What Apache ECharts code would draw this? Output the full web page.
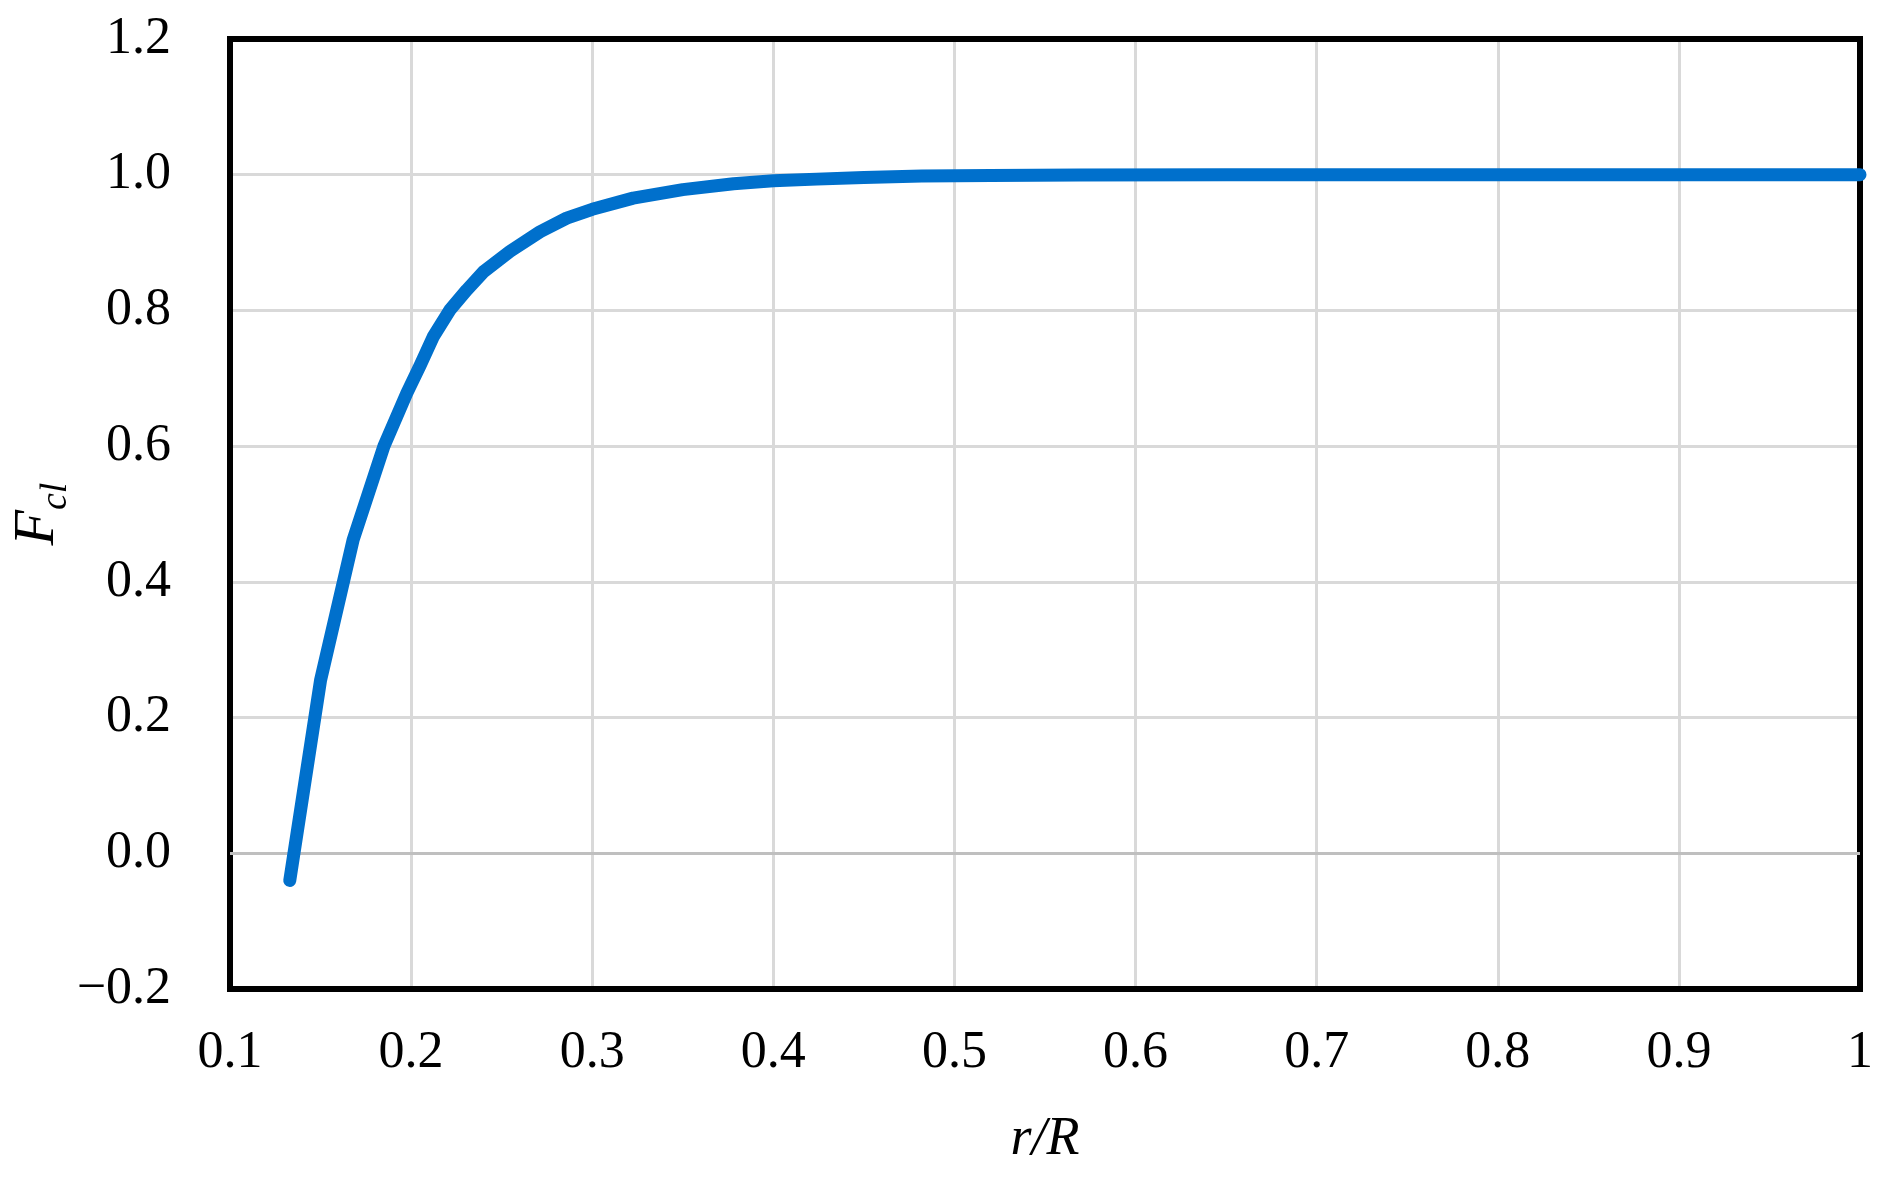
<!DOCTYPE html>
<html>
<head>
<meta charset="utf-8">
<script src="https://cdn.jsdelivr.net/npm/echarts@6/dist/echarts.min.js"></script>
<style>
html,body{margin:0;padding:0;background:#fff;}
#chart{width:1892px;height:1187px;}
</style>
</head>
<body>
<div id="chart"></div>
<script>
// r/R values
const rR = [0.133, 0.150, 0.168, 0.185, 0.1976, 0.205, 0.2123, 0.2215, 0.2307, 0.240, 0.2546, 0.2712, 0.2859, 0.300, 0.3226, 0.350, 0.378, 0.400, 0.424, 0.450, 0.482, 0.520, 0.569, 0.650, 0.750, 0.850, 1.000];
// F_cl values
const Fcl = [-0.040, 0.255, 0.462, 0.600, 0.678, 0.719, 0.7615, 0.801, 0.830, 0.857, 0.887, 0.916, 0.936, 0.949, 0.9655, 0.978, 0.9867, 0.991, 0.9935, 0.996, 0.998, 0.999, 0.9995, 1.0, 1.0, 1.0, 1.0];
// tick labels
const xTickValues = [0.1, 0.2, 0.3, 0.4, 0.5, 0.6, 0.7, 0.8, 0.9, 1.0];
const xTickLabels = ['0.1', '0.2', '0.3', '0.4', '0.5', '0.6', '0.7', '0.8', '0.9', '1'];
const yTickValues = [-0.2, 0.0, 0.2, 0.4, 0.6, 0.8, 1.0, 1.2];
const yTickLabels = ['\u22120.2', '0.0', '0.2', '0.4', '0.6', '0.8', '1.0', '1.2'];

function lookup(values, labels, v) {
  for (let i = 0; i < values.length; i++) {
    if (Math.abs(values[i] - v) < 1e-6) return labels[i];
  }
  return '';
}

const chart = echarts.init(document.getElementById('chart'), null, {renderer: 'canvas'});
const fontFam = '"Liberation Serif", "DejaVu Serif", serif';
const frameLine = {show: true, onZero: false, lineStyle: {color: '#000000', width: 6, cap: 'square'}};

chart.setOption({
  backgroundColor: '#ffffff',
  animation: false,
  grid: {
    left: 230, right: 32, top: 39, bottom: 198,
    outerBoundsMode: 'none', containLabel: false
  },
  xAxis: [{
    type: 'value', min: 0.1, max: 1.0, interval: 0.1, position: 'bottom',
    axisLine: frameLine, axisTick: {show: false},
    splitLine: {show: true, showMinLine: false, showMaxLine: false, lineStyle: {color: '#d9d9d9', width: 3}},
    axisLabel: {
      color: '#000', fontFamily: fontFam, fontSize: 52, margin: 38,
      formatter: v => lookup(xTickValues, xTickLabels, v)
    },
    name: 'r/R', nameLocation: 'middle', nameGap: 124, nameMoveOverlap: false,
    nameTextStyle: {color: '#000', fontFamily: fontFam, fontSize: 54, fontStyle: 'italic'}
  }, {
    type: 'value', min: 0.1, max: 1.0, interval: 0.1, position: 'top',
    axisLine: frameLine, axisTick: {show: false}, axisLabel: {show: false}, splitLine: {show: false}
  }],
  yAxis: [{
    type: 'value', min: -0.2, max: 1.2, interval: 0.2, position: 'left',
    axisLine: frameLine, axisTick: {show: false},
    splitLine: {show: true, showMinLine: false, showMaxLine: false, lineStyle: {color: '#d9d9d9', width: 3}},
    axisLabel: {
      color: '#000', fontFamily: fontFam, fontSize: 52, margin: 59,
      formatter: v => lookup(yTickValues, yTickLabels, v)
    },
    name: '{F|F}{s|cl}', nameLocation: 'middle', nameGap: 155, nameRotate: 90, nameMoveOverlap: false,
    nameTextStyle: {
      color: '#000', fontFamily: fontFam, fontStyle: 'italic',
      rich: {
        F: {fontSize: 58, fontFamily: fontFam, fontStyle: 'italic', color: '#000', verticalAlign: 'bottom', padding: [0, 0, 8, 0]},
        s: {fontSize: 38, fontFamily: fontFam, fontStyle: 'italic', color: '#000', verticalAlign: 'bottom'}
      }
    }
  }, {
    type: 'value', min: -0.2, max: 1.2, interval: 0.2, position: 'right',
    axisLine: frameLine, axisTick: {show: false}, axisLabel: {show: false}, splitLine: {show: false}
  }],
  series: [
    {
      name: 'zero', type: 'line', data: [], z: 1, silent: true,
      markLine: {
        silent: true, symbol: 'none', label: {show: false},
        lineStyle: {color: '#bfbfbf', width: 3, type: 'solid'},
        data: [{yAxis: 0}]
      }
    },
    {
      name: 'Fcl', type: 'line', z: 5,
      data: rR.map((x, i) => [x, Fcl[i]]),
      showSymbol: false, smooth: false,
      lineStyle: {color: '#0070cc', width: 13, cap: 'round', join: 'round'},
      itemStyle: {color: '#0070cc'}
    }
  ]
});
</script>
</body>
</html>
